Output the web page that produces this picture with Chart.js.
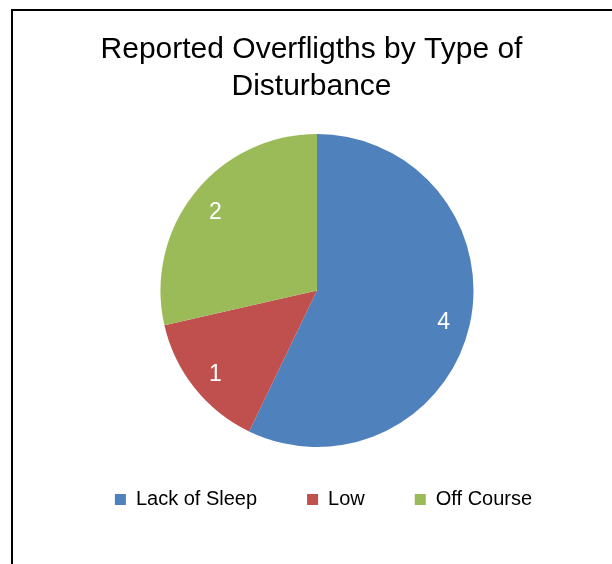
<!DOCTYPE html>
<html>
<head>
<meta charset="utf-8">
<script src="https://cdn.jsdelivr.net/npm/chart.js@4/dist/chart.umd.min.js"></script>
<style>
  html, body { margin: 0; padding: 0; background: #fff; }
  #wrap { position: relative; width: 612px; height: 564px; overflow: hidden; }
  #frame { position: absolute; left: 11px; top: 9px; width: 700px; height: 700px;
           border-top: 2px solid #000; border-left: 2px solid #000; }
  #c { position: absolute; left: 0; top: 0; }
</style>
</head>
<body>
<div id="wrap">
  <div id="frame"></div>
  <canvas id="c" width="612" height="564"></canvas>
</div>
<script>
const titleLines = ["Reported Overfligths by Type of", "Disturbance"];
const categories = ["Lack of Sleep", "Low", "Off Course"];
const values = [4, 1, 2];
const sliceColors = ["#4F81BD", "#C0504D", "#9BBB59"];

const FONT = "'Liberation Sans', Arial, sans-serif";

const shiftPlugin = {
  id: 'shiftBlocks',
  afterLayout(chart) {
    const t = chart.titleBlock;
    if (t) { t.left += -5.5; t.right += -5.5; }
    const l = chart.legend;
    if (l) { l.left += 6.5; l.right += 6.5; l.top += -7.5; l.bottom += -7.5; }
  }
};

const labelPlugin = {
  id: 'sliceLabels',
  afterDatasetsDraw(chart) {
    const ctx = chart.ctx;
    const meta = chart.getDatasetMeta(0);
    ctx.save();
    ctx.fillStyle = '#ffffff';
    ctx.font = '23px ' + FONT;
    ctx.textAlign = 'center';
    ctx.textBaseline = 'middle';
    meta.data.forEach((arc, i) => {
      const p = arc.getProps(['x', 'y', 'startAngle', 'endAngle', 'outerRadius'], true);
      const mid = (p.startAngle + p.endAngle) / 2;
      const r = p.outerRadius * 0.83;
      ctx.fillText(String(chart.data.datasets[0].data[i]), p.x + Math.cos(mid) * r, p.y + Math.sin(mid) * r + 3);
    });
    ctx.restore();
  }
};

new Chart(document.getElementById('c'), {
  type: 'pie',
  data: {
    labels: categories,
    datasets: [{
      data: values,
      backgroundColor: sliceColors,
      borderWidth: 0,
      hoverOffset: 0
    }]
  },
  options: {
    responsive: false,
    animation: false,
    devicePixelRatio: 1,
    layout: { padding: { left: 22, right: 0, top: 0, bottom: 37 } },
    plugins: {
      title: {
        display: true,
        text: titleLines,
        color: '#000',
        font: { family: FONT, size: 30, weight: 'normal', lineHeight: 37 / 30 },
        padding: { top: 31.5, bottom: 28.5 }
      },
      legend: {
        display: true,
        position: 'bottom',
        labels: {
          color: '#000',
          font: { family: FONT, size: 20 },
          boxWidth: 11,
          boxHeight: 11,
          padding: 50
        }
      },
      tooltip: { enabled: false }
    }
  },
  plugins: [shiftPlugin, labelPlugin]
});
</script>
</body>
</html>
